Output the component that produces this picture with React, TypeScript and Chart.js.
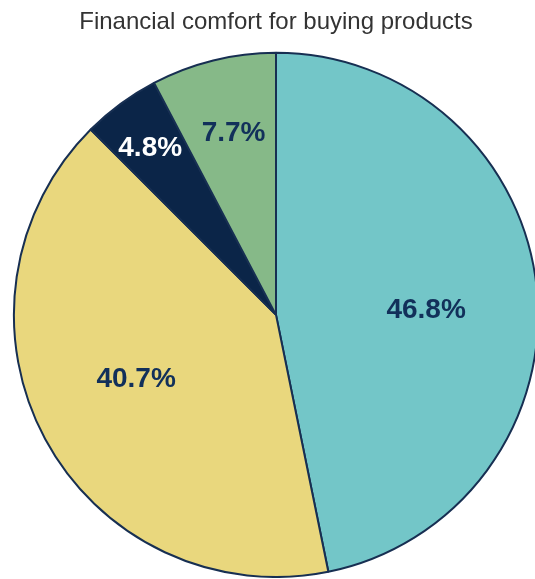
import React, { useEffect, useRef } from "react";
import { Chart, registerables } from "chart.js";

Chart.register(...registerables);

const TITLE = "Financial comfort for buying products";
const categories = ["Segment A", "Segment B", "Segment C", "Segment D"];
const values = [46.8, 40.7, 4.8, 7.7];
const labels = ["46.8%", "40.7%", "4.8%", "7.7%"];
const colors = ["#73C6C8", "#E9D77D", "#0B2548", "#86B988"];
const labelColors = ["#12305A", "#12305A", "#FFFFFF", "#12305A"];
const labelRadius = [0.57, 0.58, 0.8, 0.715];
const labelShift = [
  [1.5, 10.5],
  [-6, -8],
  [-1.5, 2.5],
  [2.5, 0],
];

const labelPlugin = {
  id: "sliceLabels",
  afterDatasetsDraw(chart: any) {
    const ctx = chart.ctx;
    const meta = chart.getDatasetMeta(0);
    ctx.save();
    ctx.font = "bold 28px 'Liberation Sans', Arial, sans-serif";
    ctx.textAlign = "center";
    ctx.textBaseline = "middle";
    meta.data.forEach((arc: any, i: number) => {
      const { x, y, startAngle, endAngle, outerRadius } = arc.getProps(
        ["x", "y", "startAngle", "endAngle", "outerRadius"],
        true
      );
      const mid = (startAngle + endAngle) / 2;
      const r = outerRadius * labelRadius[i];
      ctx.fillStyle = labelColors[i];
      ctx.fillText(
        labels[i],
        x + Math.cos(mid) * r + labelShift[i][0],
        y + Math.sin(mid) * r + labelShift[i][1]
      );
    });
    ctx.restore();
  },
};

export default function App() {
  const ref = useRef<HTMLCanvasElement | null>(null);
  useEffect(() => {
    if (!ref.current) return;
    const chart = new Chart(ref.current, {
      type: "pie",
      data: {
        labels: categories,
        datasets: [
          {
            data: values,
            backgroundColor: colors,
            borderColor: "#172F52",
            borderWidth: 2,
          },
        ],
      },
      options: {
        responsive: false,
        animation: false,
        layout: { padding: 0 },
        plugins: {
          legend: { display: false },
          tooltip: { enabled: false },
          title: {
            display: true,
            text: TITLE,
            color: "#333333",
            font: { family: "'Liberation Sans', Arial, sans-serif", size: 24, weight: "normal" },
            padding: { top: 8, bottom: 15 },
          },
        },
      },
      plugins: [labelPlugin],
    });
    return () => chart.destroy();
  }, []);
  return (
    <div style={{ position: "fixed", left: 0, top: 0, width: "100vw", height: "100vh", overflow: "hidden", background: "#fff" }}>
      <canvas ref={ref} width={552} height={578} style={{ position: "absolute", left: 0, top: 0, width: 552, height: 578 }} />
    </div>
  );
}
